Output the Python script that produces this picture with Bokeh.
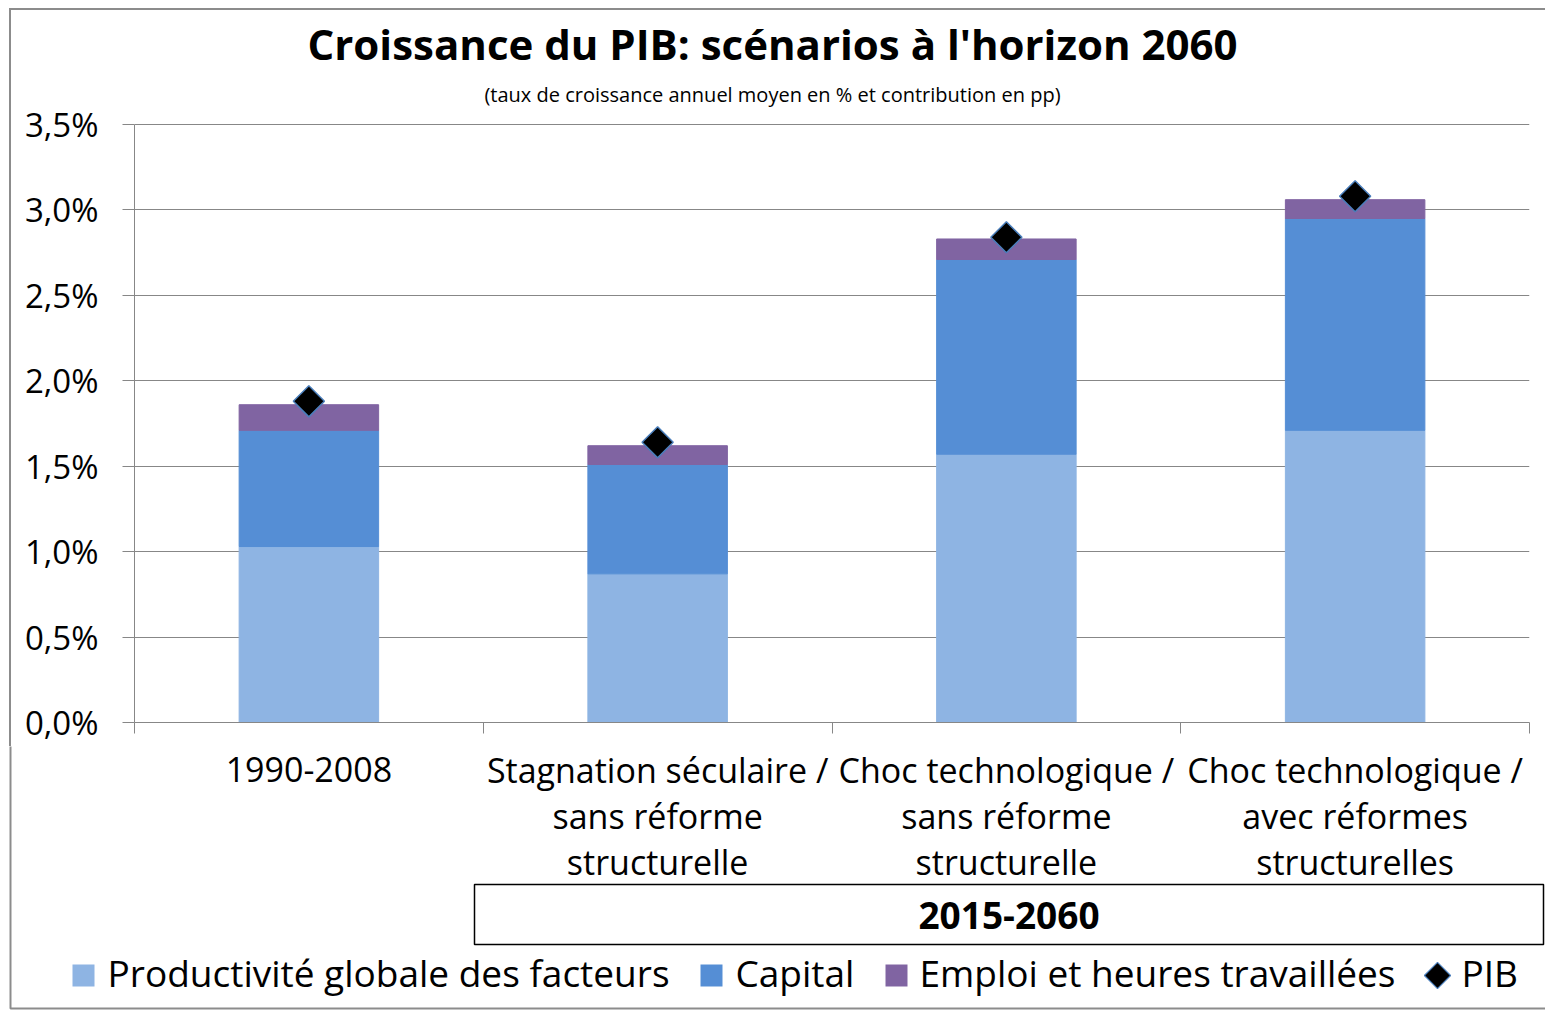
import numpy as np
from bokeh.plotting import figure
from bokeh.layouts import column, row
from bokeh.models import ColumnDataSource, FixedTicker, CustomJSTickFormatter, Range1d, Div
from bokeh.core.properties import value
from bokeh.embed import file_html
from bokeh.resources import INLINE

# ---------------- data ----------------
categories = [
    ["1990-2008"],
    ["Stagnation séculaire /", "sans réforme", "structurelle"],
    ["Choc technologique /", "sans réforme", "structurelle"],
    ["Choc technologique /", "avec réformes", "structurelles"],
]
pgf = [1.03, 0.87, 1.57, 1.71]       # Productivité globale des facteurs
capital = [0.68, 0.64, 1.14, 1.24]   # Capital
emploi = [0.15, 0.11, 0.12, 0.11]    # Emploi et heures travaillées
pib = [1.88, 1.64, 2.84, 3.08]       # PIB
y_ticks = [0.0, 0.5, 1.0, 1.5, 2.0, 2.5, 3.0, 3.5]
group_label = "2015-2060"
title = "Croissance du PIB: scénarios à l'horizon 2060"
subtitle = "(taux de croissance annuel moyen en % et contribution en pp)"
series_names = ["Productivité globale des facteurs", "Capital",
                "Emploi et heures travaillées", "PIB"]
series_colors = ["#8EB4E3", "#558ED5", "#8064A2"]

# ---------------- layout constants (page pixels) ----------------
W, H = 1545, 1010
TOP_H = 10           # thin strip holding the top border
MAIN_BOTTOM = 746    # bottom of the chart strip
STRIP_W = 12
FRAME_L, FRAME_R, FRAME_T, FRAME_B = 134, 1529, 124, 722
X0, X1 = 0, len(categories)
Y0, Y1 = 0.0, 3.5
FONT = "Open Sans"
GRID = "#878787"
BORDER = "#8C8C8C"


def px_to_x(px):
    return X0 + (px - FRAME_L) / (FRAME_R - FRAME_L) * (X1 - X0)


def py_to_y(py):
    return Y0 + (FRAME_B - py) / (FRAME_B - FRAME_T) * (Y1 - Y0)


def deco_fig(width, height, x_range, y_range):
    f = figure(width=width, height=height, x_range=x_range, y_range=y_range,
               output_backend="svg", toolbar_location=None, min_border=0,
               x_axis_location=None, y_axis_location=None)
    f.outline_line_color = None
    f.grid.visible = False
    f.background_fill_color = "white"
    f.border_fill_color = "white"
    return f


def txt(fig, xs, ys, texts, size, bold=False, align="center"):
    fig.text(x=xs, y=ys, text=texts, text_font=value(FONT),
             text_font_style="bold" if bold else "normal",
             text_font_size=size, text_align=align, text_baseline="alphabetic",
             text_color="black")


# ---------------- outer border pieces (top edge and left edge) ----------------
top_edge = Div(width=W, height=TOP_H, margin=0,
               styles={"background": "linear-gradient(to right, white 9px, transparent 9px), "
                                     "linear-gradient(to bottom, white 8px, #8C8C8C 8px)"})
left_edge = Div(width=STRIP_W, height=MAIN_BOTTOM - TOP_H, margin=0,
                styles={"background": "linear-gradient(to right, white 9px, #8C8C8C 9px, "
                                      "#8C8C8C 11px, white 11px)"})

# ---------------- main chart ----------------
x = list(np.arange(len(categories)) + 0.5)
src = ColumnDataSource(dict(x=x, pgf=pgf, capital=capital, emploi=emploi, pib=pib))

p = figure(width=W - STRIP_W, height=MAIN_BOTTOM - TOP_H,
           x_range=Range1d(X0, X1), y_range=Range1d(Y0, py_to_y(TOP_H)),
           output_backend="svg", toolbar_location=None,
           min_border_left=FRAME_L - STRIP_W, min_border_right=W - FRAME_R,
           min_border_top=0, min_border_bottom=MAIN_BOTTOM - FRAME_B)
p.outline_line_color = None
p.background_fill_color = "white"
p.border_fill_color = "white"
p.xgrid.visible = False
p.ygrid.grid_line_color = GRID
p.ygrid.grid_line_width = 1
p.ygrid.ticker = FixedTicker(ticks=y_ticks)

p.yaxis.ticker = FixedTicker(ticks=y_ticks)
p.yaxis.bounds = (Y0, Y1)
p.yaxis.formatter = CustomJSTickFormatter(code="return tick.toFixed(1).replace('.', ',') + '%';")
p.yaxis.axis_line_color = GRID
p.yaxis.major_tick_line_color = GRID
p.yaxis.major_tick_out = 12
p.yaxis.major_tick_in = 0
p.yaxis.minor_tick_line_color = None
p.yaxis.major_label_standoff = 24
p.yaxis.major_label_text_font = FONT
p.yaxis.major_label_text_font_size = "33px"
p.yaxis.major_label_text_color = "black"

p.xaxis.ticker = FixedTicker(ticks=list(range(X0, X1 + 1)))
p.xaxis.formatter = CustomJSTickFormatter(code="return '';")
p.xaxis.axis_line_color = GRID
p.xaxis.major_tick_line_color = GRID
p.xaxis.major_tick_out = 11
p.xaxis.major_tick_in = 0
p.xaxis.minor_tick_line_color = None
p.xaxis.major_label_standoff = 0
p.xaxis.major_label_text_font_size = "1px"

bars = p.vbar_stack(["pgf", "capital", "emploi"], x="x", width=0.4,
                    color=series_colors, source=src)
r_pib = p.scatter("x", "pib", source=src, marker="square", angle=np.pi / 4, size=22,
                  fill_color="black", line_color="#4A7EBB", line_width=1.5)

# title & subtitle (inside the upper, empty part of the frame)
txt(p, [px_to_x(772)], [py_to_y(43)], [title], "42px", bold=True)
txt(p, [px_to_x(772)], [py_to_y(94)], [subtitle], "20px")

# ---------------- bottom strip: category labels, group box, legend ----------------
bot = deco_fig(W, H - MAIN_BOTTOM, Range1d(px_to_x(0), px_to_x(W)), Range1d(H, MAIN_BOTTOM))

cx, cy, ct = [], [], []
for i, lines in enumerate(categories):
    for k, line in enumerate(lines):
        cx.append(x[i])
        cy.append(769 + 46 * k)
        ct.append(line)
txt(bot, cx, cy, ct, "34px")

bot.quad(left=[px_to_x(474)], right=[px_to_x(1543)], top=[884], bottom=[944],
         fill_color=None, line_color="black", line_width=1.5)
txt(bot, [px_to_x(1008.5)], [915], [group_label], "37px", bold=True)

# legend
sq_left = [72, 700, 885]
bot.quad(left=[px_to_x(v) for v in sq_left], right=[px_to_x(v + 22) for v in sq_left],
         top=[964] * 3, bottom=[986] * 3, fill_color=series_colors, line_color=None)
bot.scatter(x=[px_to_x(1437)], y=[975], marker="square", angle=np.pi / 4, size=18.5,
            fill_color="black", line_color="#4A7EBB", line_width=1.2)
leg_x = [107, 735, 919, 1461]
txt(bot, [px_to_x(v) for v in leg_x], [972] * 4, series_names, "37px", align="left")

bot.line(x=[px_to_x(10), px_to_x(10), px_to_x(W + 10)], y=[MAIN_BOTTOM - 5, 1008, 1008],
         line_color=BORDER, line_width=2)

layout = column(top_edge, row(left_edge, p), bot)
open("out.html", "w").write(file_html(layout, INLINE))
